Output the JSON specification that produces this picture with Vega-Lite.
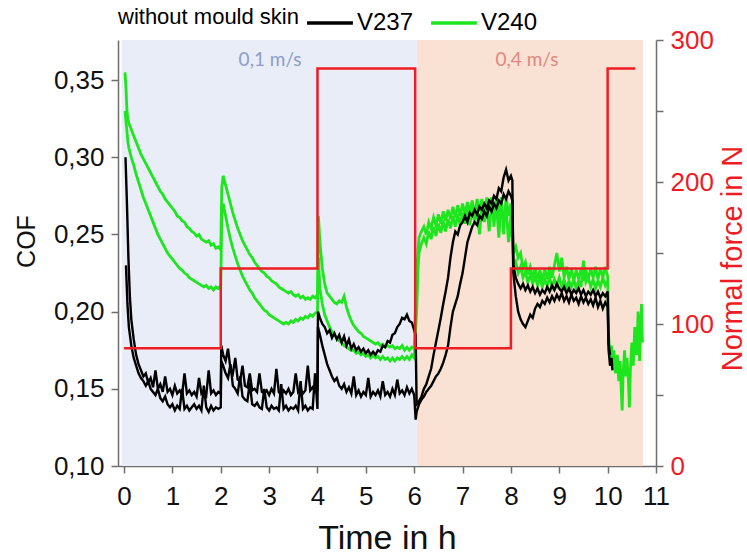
{
"$schema":"https://vega.github.io/schema/vega-lite/v6.json",
"width":538,"height":426,
"autosize":{"type":"none"},
"padding":{"left":118,"top":40,"right":91,"bottom":90},
"background":"white",
"config":{"view":{"stroke":null},"font":"Liberation Sans",
"axis":{"grid":false,"domainColor":"#6e6e6e","domainWidth":1.5,"tickColor":"#6e6e6e","tickWidth":1.5,"tickSize":7,"labelFont":"Liberation Sans","labelFontSize":26,"labelColor":"#111111","titleFont":"Liberation Sans","titleFontWeight":"normal","titleColor":"#111111"}},
"datasets":{
"zones":[{"start":-0.05,"end":6.06,"speed":"0,1 m/s"},{"start":6.06,"end":10.73,"speed":"0,4 m/s"}],
"labels":[{"t":3.02,"cof":0.363,"speed":"0,1 m/s"},{"t":8.33,"cof":0.363,"speed":"0,4 m/s"}],
"force":[{"i":1,"t":0,"force":83},{"i":2,"t":2,"force":83},{"i":3,"t":2,"force":139},{"i":4,"t":4,"force":139},{"i":5,"t":4,"force":280},{"i":6,"t":6.02,"force":280},{"i":7,"t":6.02,"force":83},{"i":8,"t":8,"force":83},{"i":9,"t":8,"force":139},{"i":10,"t":10,"force":139},{"i":11,"t":10,"force":280},{"i":12,"t":10.57,"force":280}],
"cof":[
{"t":0.02,"c":0.355,"d":0.33},
{"t":0.03,"a":0.3},
{"t":0.04,"b":0.23,"c":0.345},
{"t":0.05,"d":0.32},
{"t":0.06,"a":0.27,"c":0.33},
{"t":0.07,"b":0.205},
{"t":0.08,"c":0.325,"d":0.31},
{"t":0.09,"a":0.235},
{"t":0.1,"b":0.19,"c":0.322,"d":0.306},
{"t":0.12,"a":0.21},
{"t":0.15,"a":0.195,"b":0.178,"c":0.318,"d":0.3},
{"t":0.2,"a":0.182,"b":0.17,"c":0.314,"d":0.295},
{"t":0.25,"a":0.172,"b":0.165,"c":0.31,"d":0.289},
{"t":0.3,"a":0.166,"b":0.16,"c":0.306,"d":0.284},
{"t":0.35,"a":0.162,"b":0.157,"c":0.302,"d":0.279},
{"t":0.4,"a":0.158,"b":0.155,"c":0.299,"d":0.274},
{"t":0.45,"a":0.16,"b":0.152,"c":0.296,"d":0.27},
{"t":0.5,"a":0.154,"b":0.155,"c":0.293,"d":0.266},
{"t":0.55,"a":0.157,"b":0.15,"c":0.29,"d":0.262},
{"t":0.6,"a":0.151,"b":0.148,"c":0.287,"d":0.258},
{"t":0.65,"a":0.162,"b":0.146,"c":0.284,"d":0.254},
{"t":0.7,"a":0.15,"b":0.15,"c":0.281,"d":0.25},
{"t":0.75,"a":0.153,"b":0.144,"c":0.278,"d":0.247},
{"t":0.8,"a":0.148,"b":0.142,"c":0.276,"d":0.244},
{"t":0.85,"a":0.158,"b":0.145,"c":0.273,"d":0.241},
{"t":0.9,"a":0.148,"b":0.14,"c":0.271,"d":0.238},
{"t":0.95,"a":0.15,"b":0.138,"c":0.269,"d":0.236},
{"t":1.0,"a":0.146,"b":0.14,"c":0.267,"d":0.234},
{"t":1.05,"a":0.152,"b":0.136,"c":0.265,"d":0.232},
{"t":1.1,"a":0.147,"b":0.139,"c":0.262,"d":0.23},
{"t":1.15,"a":0.149,"b":0.137,"c":0.261,"d":0.228},
{"t":1.2,"a":0.146,"b":0.15,"c":0.259,"d":0.227},
{"t":1.25,"a":0.16,"b":0.137,"c":0.258,"d":0.225},
{"t":1.3,"a":0.147,"b":0.139,"c":0.255,"d":0.224},
{"t":1.35,"a":0.149,"b":0.136,"c":0.254,"d":0.222},
{"t":1.4,"a":0.146,"b":0.138,"c":0.252,"d":0.221},
{"t":1.45,"a":0.148,"b":0.14,"c":0.251,"d":0.22},
{"t":1.5,"a":0.145,"b":0.137,"c":0.249,"d":0.219},
{"t":1.55,"a":0.157,"b":0.139,"c":0.25,"d":0.218},
{"t":1.6,"a":0.147,"b":0.136,"c":0.247,"d":0.217},
{"t":1.65,"a":0.149,"b":0.152,"c":0.246,"d":0.216},
{"t":1.7,"a":0.146,"b":0.138,"c":0.245,"d":0.217},
{"t":1.75,"a":0.162,"b":0.135,"c":0.246,"d":0.215},
{"t":1.8,"a":0.147,"b":0.139,"c":0.243,"d":0.216},
{"t":1.85,"a":0.149,"b":0.136,"c":0.244,"d":0.214},
{"t":1.9,"a":0.146,"b":0.138,"c":0.241,"d":0.216},
{"t":1.95,"a":0.148,"b":0.137,"c":0.242,"d":0.215},
{"t":2.0,"a":0.147,"b":0.138,"c":0.24,"d":0.217},
{"t":2.01,"a":0.178,"b":0.168},
{"t":2.02,"c":0.28,"d":0.262},
{"t":2.05,"a":0.172,"b":0.165,"c":0.288,"d":0.27},
{"t":2.1,"a":0.168,"b":0.16,"c":0.282,"d":0.262},
{"t":2.15,"a":0.176,"b":0.157,"c":0.276,"d":0.254},
{"t":2.2,"a":0.163,"b":0.166,"c":0.27,"d":0.247},
{"t":2.25,"a":0.16,"b":0.152,"c":0.264,"d":0.241},
{"t":2.3,"a":0.17,"b":0.15,"c":0.259,"d":0.236},
{"t":2.35,"a":0.156,"b":0.147,"c":0.254,"d":0.231},
{"t":2.4,"a":0.155,"b":0.158,"c":0.25,"d":0.227},
{"t":2.45,"a":0.165,"b":0.145,"c":0.246,"d":0.223},
{"t":2.5,"a":0.152,"b":0.143,"c":0.243,"d":0.22},
{"t":2.55,"a":0.151,"b":0.142,"c":0.24,"d":0.217},
{"t":2.6,"a":0.16,"b":0.154,"c":0.237,"d":0.214},
{"t":2.65,"a":0.149,"b":0.14,"c":0.235,"d":0.212},
{"t":2.7,"a":0.15,"b":0.139,"c":0.232,"d":0.209},
{"t":2.75,"a":0.148,"b":0.141,"c":0.23,"d":0.207},
{"t":2.8,"a":0.16,"b":0.138,"c":0.228,"d":0.205},
{"t":2.85,"a":0.148,"b":0.137,"c":0.226,"d":0.203},
{"t":2.9,"a":0.147,"b":0.15,"c":0.225,"d":0.201},
{"t":2.95,"a":0.149,"b":0.138,"c":0.223,"d":0.2},
{"t":3.0,"a":0.146,"b":0.136,"c":0.222,"d":0.198},
{"t":3.05,"a":0.15,"b":0.139,"c":0.22,"d":0.197},
{"t":3.1,"a":0.147,"b":0.137,"c":0.219,"d":0.196},
{"t":3.15,"a":0.163,"b":0.138,"c":0.218,"d":0.195},
{"t":3.2,"a":0.148,"b":0.136,"c":0.216,"d":0.194},
{"t":3.25,"a":0.146,"b":0.153,"c":0.215,"d":0.193},
{"t":3.3,"a":0.149,"b":0.137,"c":0.214,"d":0.192},
{"t":3.35,"a":0.147,"b":0.139,"c":0.213,"d":0.193},
{"t":3.4,"a":0.15,"b":0.136,"c":0.212,"d":0.192},
{"t":3.45,"a":0.146,"b":0.138,"c":0.213,"d":0.194},
{"t":3.5,"a":0.148,"b":0.137,"c":0.211,"d":0.193},
{"t":3.55,"a":0.16,"b":0.139,"c":0.21,"d":0.195},
{"t":3.6,"a":0.148,"b":0.136,"c":0.211,"d":0.194},
{"t":3.65,"a":0.15,"b":0.155,"c":0.209,"d":0.196},
{"t":3.7,"a":0.147,"b":0.137,"c":0.21,"d":0.195},
{"t":3.75,"a":0.149,"b":0.139,"c":0.208,"d":0.197},
{"t":3.8,"a":0.165,"b":0.136,"c":0.209,"d":0.196},
{"t":3.85,"a":0.149,"b":0.138,"c":0.208,"d":0.198},
{"t":3.9,"a":0.151,"b":0.137,"c":0.21,"d":0.197},
{"t":3.95,"a":0.148,"b":0.16,"c":0.209,"d":0.199},
{"t":4.0,"a":0.149,"b":0.137,"c":0.211,"d":0.2},
{"t":4.01,"a":0.2,"b":0.19},
{"t":4.02,"c":0.262,"d":0.235},
{"t":4.05,"a":0.196,"b":0.185,"c":0.245,"d":0.215},
{"t":4.1,"a":0.192,"b":0.178,"c":0.228,"d":0.205},
{"t":4.15,"a":0.19,"b":0.172,"c":0.218,"d":0.198},
{"t":4.2,"a":0.186,"b":0.166,"c":0.212,"d":0.194},
{"t":4.25,"a":0.188,"b":0.162,"c":0.21,"d":0.19},
{"t":4.3,"a":0.183,"b":0.158,"c":0.208,"d":0.187},
{"t":4.35,"a":0.186,"b":0.155,"c":0.206,"d":0.185},
{"t":4.4,"a":0.182,"b":0.157,"c":0.205,"d":0.183},
{"t":4.45,"a":0.185,"b":0.152,"c":0.207,"d":0.181},
{"t":4.5,"a":0.18,"b":0.15,"c":0.206,"d":0.18},
{"t":4.55,"a":0.184,"b":0.153,"c":0.21,"d":0.178},
{"t":4.6,"a":0.178,"b":0.148,"c":0.203,"d":0.177},
{"t":4.65,"a":0.182,"b":0.151,"c":0.198,"d":0.176},
{"t":4.7,"a":0.176,"b":0.147,"c":0.194,"d":0.175},
{"t":4.75,"a":0.179,"b":0.158,"c":0.191,"d":0.175},
{"t":4.8,"a":0.175,"b":0.146,"c":0.189,"d":0.173},
{"t":4.85,"a":0.177,"b":0.149,"c":0.187,"d":0.174},
{"t":4.9,"a":0.174,"b":0.145,"c":0.186,"d":0.172},
{"t":4.95,"a":0.176,"b":0.148,"c":0.184,"d":0.173},
{"t":5.0,"a":0.173,"b":0.146,"c":0.183,"d":0.171},
{"t":5.05,"a":0.175,"b":0.157,"c":0.182,"d":0.172},
{"t":5.1,"a":0.172,"b":0.145,"c":0.181,"d":0.17},
{"t":5.15,"a":0.174,"b":0.148,"c":0.18,"d":0.172},
{"t":5.2,"a":0.172,"b":0.146,"c":0.179,"d":0.17},
{"t":5.25,"a":0.175,"b":0.149,"c":0.18,"d":0.171},
{"t":5.3,"a":0.174,"b":0.145,"c":0.178,"d":0.169},
{"t":5.35,"a":0.178,"b":0.155,"c":0.179,"d":0.171},
{"t":5.4,"a":0.177,"b":0.146,"c":0.177,"d":0.169},
{"t":5.45,"a":0.181,"b":0.148,"c":0.178,"d":0.17},
{"t":5.5,"a":0.18,"b":0.145,"c":0.177,"d":0.168},
{"t":5.55,"a":0.185,"b":0.15,"c":0.178,"d":0.17},
{"t":5.6,"a":0.186,"b":0.146,"c":0.176,"d":0.168},
{"t":5.65,"a":0.19,"b":0.156,"c":0.177,"d":0.17},
{"t":5.7,"a":0.192,"b":0.147,"c":0.176,"d":0.169},
{"t":5.75,"a":0.196,"b":0.149,"c":0.178,"d":0.171},
{"t":5.8,"a":0.195,"b":0.146,"c":0.175,"d":0.169},
{"t":5.85,"a":0.198,"b":0.151,"c":0.177,"d":0.171},
{"t":5.9,"a":0.194,"b":0.147,"c":0.175,"d":0.169},
{"t":5.95,"a":0.193,"b":0.15,"c":0.177,"d":0.172},
{"t":6.0,"a":0.188,"b":0.146,"c":0.176,"d":0.17},
{"t":6.03,"a":0.185,"b":0.13},
{"t":6.05,"a":0.14,"b":0.135,"c":0.225,"d":0.2},
{"t":6.08,"c":0.24,"d":0.228},
{"t":6.1,"a":0.142,"b":0.14,"c":0.248,"d":0.238},
{"t":6.15,"a":0.145,"b":0.143,"c":0.252,"d":0.244},
{"t":6.2,"a":0.15,"b":0.145,"c":0.255,"d":0.248},
{"t":6.25,"a":0.153,"b":0.148,"c":0.25,"d":0.244},
{"t":6.3,"a":0.158,"b":0.15,"c":0.258,"d":0.252},
{"t":6.35,"a":0.163,"b":0.152,"c":0.254,"d":0.247},
{"t":6.4,"a":0.172,"b":0.155,"c":0.261,"d":0.255},
{"t":6.45,"a":0.18,"b":0.158,"c":0.256,"d":0.249},
{"t":6.5,"a":0.188,"b":0.16,"c":0.263,"d":0.257},
{"t":6.55,"a":0.196,"b":0.163,"c":0.257,"d":0.251},
{"t":6.6,"a":0.205,"b":0.167,"c":0.265,"d":0.259},
{"t":6.65,"a":0.213,"b":0.172,"c":0.259,"d":0.252},
{"t":6.7,"a":0.222,"b":0.178,"c":0.266,"d":0.26},
{"t":6.75,"a":0.235,"b":0.19,"c":0.26,"d":0.254},
{"t":6.8,"a":0.245,"b":0.2,"c":0.268,"d":0.262},
{"t":6.85,"a":0.252,"b":0.205,"c":0.261,"d":0.255},
{"t":6.9,"a":0.25,"b":0.21,"c":0.269,"d":0.263},
{"t":6.95,"a":0.256,"b":0.218,"c":0.262,"d":0.256},
{"t":7.0,"a":0.258,"b":0.225,"c":0.27,"d":0.264},
{"t":7.05,"a":0.262,"b":0.235,"c":0.263,"d":0.257},
{"t":7.1,"a":0.258,"b":0.245,"c":0.271,"d":0.266},
{"t":7.15,"a":0.264,"b":0.25,"c":0.264,"d":0.256},
{"t":7.2,"a":0.262,"b":0.255,"c":0.272,"d":0.267},
{"t":7.25,"a":0.266,"b":0.258,"c":0.262,"d":0.258},
{"t":7.3,"a":0.263,"b":0.256,"c":0.273,"d":0.268},
{"t":7.35,"a":0.268,"b":0.262,"c":0.265,"d":0.25},
{"t":7.4,"a":0.266,"b":0.26,"c":0.273,"d":0.268},
{"t":7.45,"a":0.27,"b":0.265,"c":0.258,"d":0.259},
{"t":7.5,"a":0.267,"b":0.262,"c":0.274,"d":0.269},
{"t":7.55,"a":0.272,"b":0.268,"c":0.265,"d":0.252},
{"t":7.6,"a":0.27,"b":0.265,"c":0.274,"d":0.27},
{"t":7.65,"a":0.275,"b":0.27,"c":0.255,"d":0.26},
{"t":7.7,"a":0.273,"b":0.267,"c":0.275,"d":0.27},
{"t":7.75,"a":0.28,"b":0.272,"c":0.262,"d":0.248},
{"t":7.8,"a":0.278,"b":0.27,"c":0.274,"d":0.271},
{"t":7.85,"a":0.287,"b":0.276,"c":0.25,"d":0.258},
{"t":7.9,"a":0.292,"b":0.273,"c":0.275,"d":0.268},
{"t":7.95,"a":0.285,"b":0.278,"c":0.262,"d":0.245},
{"t":8.0,"a":0.288,"b":0.275,"c":0.27,"d":0.262},
{"t":8.03,"a":0.285,"b":0.272,"c":0.25,"d":0.245},
{"t":8.05,"a":0.225,"b":0.23,"c":0.238,"d":0.228},
{"t":8.1,"a":0.21,"b":0.222,"c":0.242,"d":0.232},
{"t":8.15,"a":0.2,"b":0.218,"c":0.235,"d":0.225},
{"t":8.2,"a":0.195,"b":0.215,"c":0.238,"d":0.229},
{"t":8.25,"a":0.192,"b":0.218,"c":0.228,"d":0.222},
{"t":8.3,"a":0.19,"b":0.214,"c":0.232,"d":0.226},
{"t":8.35,"a":0.194,"b":0.217,"c":0.224,"d":0.219},
{"t":8.4,"a":0.198,"b":0.213,"c":0.229,"d":0.224},
{"t":8.45,"a":0.196,"b":0.216,"c":0.222,"d":0.218},
{"t":8.5,"a":0.202,"b":0.212,"c":0.228,"d":0.223},
{"t":8.55,"a":0.205,"b":0.215,"c":0.221,"d":0.217},
{"t":8.6,"a":0.203,"b":0.211,"c":0.227,"d":0.222},
{"t":8.65,"a":0.207,"b":0.214,"c":0.22,"d":0.216},
{"t":8.7,"a":0.205,"b":0.212,"c":0.228,"d":0.221},
{"t":8.75,"a":0.209,"b":0.216,"c":0.221,"d":0.217},
{"t":8.8,"a":0.206,"b":0.213,"c":0.229,"d":0.222},
{"t":8.85,"a":0.21,"b":0.217,"c":0.222,"d":0.216},
{"t":8.9,"a":0.207,"b":0.214,"c":0.23,"d":0.221},
{"t":8.95,"a":0.211,"b":0.218,"c":0.238,"d":0.217},
{"t":9.0,"a":0.208,"b":0.215,"c":0.226,"d":0.222},
{"t":9.05,"a":0.212,"b":0.213,"c":0.235,"d":0.216},
{"t":9.1,"a":0.207,"b":0.216,"c":0.222,"d":0.221},
{"t":9.15,"a":0.21,"b":0.212,"c":0.229,"d":0.215},
{"t":9.2,"a":0.206,"b":0.215,"c":0.221,"d":0.22},
{"t":9.25,"a":0.211,"b":0.211,"c":0.228,"d":0.216},
{"t":9.3,"a":0.207,"b":0.214,"c":0.22,"d":0.221},
{"t":9.35,"a":0.209,"b":0.212,"c":0.227,"d":0.215},
{"t":9.4,"a":0.205,"b":0.215,"c":0.221,"d":0.22},
{"t":9.45,"a":0.21,"b":0.211,"c":0.228,"d":0.216},
{"t":9.5,"a":0.206,"b":0.214,"c":0.22,"d":0.233},
{"t":9.55,"a":0.209,"b":0.21,"c":0.227,"d":0.219},
{"t":9.6,"a":0.205,"b":0.213,"c":0.221,"d":0.222},
{"t":9.65,"a":0.208,"b":0.211,"c":0.228,"d":0.216},
{"t":9.7,"a":0.204,"b":0.214,"c":0.222,"d":0.221},
{"t":9.75,"a":0.209,"b":0.21,"c":0.229,"d":0.215},
{"t":9.8,"a":0.203,"b":0.213,"c":0.221,"d":0.22},
{"t":9.85,"a":0.207,"b":0.209,"c":0.228,"d":0.216},
{"t":9.9,"a":0.202,"b":0.212,"c":0.222,"d":0.222},
{"t":9.95,"a":0.206,"b":0.21,"c":0.229,"d":0.217},
{"t":10.0,"a":0.203,"b":0.213,"c":0.223,"d":0.22},
{"t":10.02,"a":0.175,"b":0.18,"c":0.185},
{"t":10.05,"a":0.165,"b":0.172,"c":0.17},
{"t":10.08,"a":0.17,"c":0.178},
{"t":10.1,"a":0.162,"c":0.165},
{"t":10.13,"c":0.175},
{"t":10.16,"c":0.16},
{"t":10.2,"c":0.172},
{"t":10.23,"c":0.155},
{"t":10.26,"c":0.168},
{"t":10.28,"c":0.15},
{"t":10.3,"c":0.136},
{"t":10.32,"c":0.16},
{"t":10.35,"c":0.175},
{"t":10.38,"c":0.158},
{"t":10.4,"c":0.17},
{"t":10.43,"c":0.155},
{"t":10.45,"c":0.138},
{"t":10.47,"c":0.162},
{"t":10.5,"c":0.18},
{"t":10.53,"c":0.165},
{"t":10.56,"c":0.19},
{"t":10.6,"c":0.172},
{"t":10.63,"c":0.2},
{"t":10.66,"c":0.168},
{"t":10.7,"c":0.205},
{"t":10.72,"c":0.18}
]},
"layer":[
{"layer":[
{"data":{"name":"zones"},"mark":{"type":"rect"},
"encoding":{
"x":{"field":"start","type":"quantitative","scale":{"domain":[-0.125,11],"nice":false,"zero":false},
"axis":{"title":"Time in h","titleFontSize":34,"values":[0,0.5,1,1.5,2,2.5,3,3.5,4,4.5,5,5.5,6,6.5,7,7.5,8,8.5,9,9.5,10,10.5,11],"labelExpr":"datum.value % 1 == 0 ? format(datum.value, 'd') : ''","labelFlush":false,"labelPadding":10,"titlePadding":12}},
"x2":{"field":"end"},
"fill":{"field":"speed","type":"nominal","scale":{"domain":["0,1 m/s","0,4 m/s"],"range":["#e8edf7","#f9e2d4"]},"legend":null}}},
{"data":{"name":"labels"},"mark":{"type":"text","font":"Lato","fontSize":19},
"encoding":{
"x":{"field":"t","type":"quantitative"},
"y":{"field":"cof","type":"quantitative","scale":{"domain":[0.1,0.376],"nice":false,"zero":false},
"axis":{"title":"COF","titleFontSize":25,"values":[0.1,0.125,0.15,0.175,0.2,0.225,0.25,0.275,0.3,0.325,0.35,0.375],"labelExpr":"round(datum.value*100) % 5 == 0 ? replace(format(datum.value, '.2f'), '.', ',') : ''","labelPadding":7,"titlePadding":14,"titleY":201}},
"text":{"field":"speed"},
"color":{"field":"speed","type":"nominal","scale":{"domain":["0,1 m/s","0,4 m/s"],"range":["#8e9cc8","#e4867e"]},"legend":null}}},
{"data":{"name":"cof"},"transform":[{"fold":["c","d"],"as":["run","cof"]},{"filter":"isValid(datum.cof)"}],
"mark":{"type":"line","strokeWidth":2.8},
"encoding":{
"x":{"field":"t","type":"quantitative"},
"y":{"field":"cof","type":"quantitative"},
"detail":{"field":"run"},
"stroke":{"datum":"V240","type":"nominal","scale":{"domain":["V237","V240"],"range":["#000000","#1ee61e"]},
"legend":{"orient":"none","legendX":0,"legendY":-42,"direction":"horizontal","title":"without mould skin","titleOrient":"left","titleLimit":400,"titleFontSize":22,"titleFontWeight":"normal","titleColor":"#000000","labelFontSize":24,"labelColor":"#000000","symbolType":"stroke","symbolSize":2100,"symbolStrokeWidth":3.5,"columnPadding":10,"labelOffset":2,"titlePadding":6}}}},
{"data":{"name":"cof"},"transform":[{"fold":["a","b"],"as":["run","cof"]},{"filter":"isValid(datum.cof)"}],
"mark":{"type":"line","strokeWidth":2.4},
"encoding":{
"x":{"field":"t","type":"quantitative"},
"y":{"field":"cof","type":"quantitative"},
"detail":{"field":"run"},
"stroke":{"datum":"V237","type":"nominal"}}}
]},
{"data":{"name":"force"},"mark":{"type":"line","color":"#ee1c24","strokeWidth":2.5},
"encoding":{
"x":{"field":"t","type":"quantitative"},
"y":{"field":"force","type":"quantitative","scale":{"domain":[0,300],"nice":false,"zero":true},
"axis":{"orient":"right","title":"Normal force in N","titleFontSize":29,"titleColor":"#ee1c24","labelColor":"#ee1c24","titleAngle":270,"titleAlign":"center","titleBaseline":"middle","titleX":76,"titleY":218,"values":[0,50,100,150,200,250,300],"labelExpr":"datum.value % 100 == 0 ? format(datum.value, 'd') : ''","labelPadding":7}},
"order":{"field":"i","type":"quantitative"}}}
],
"resolve":{"scale":{"y":"independent"}}
}
